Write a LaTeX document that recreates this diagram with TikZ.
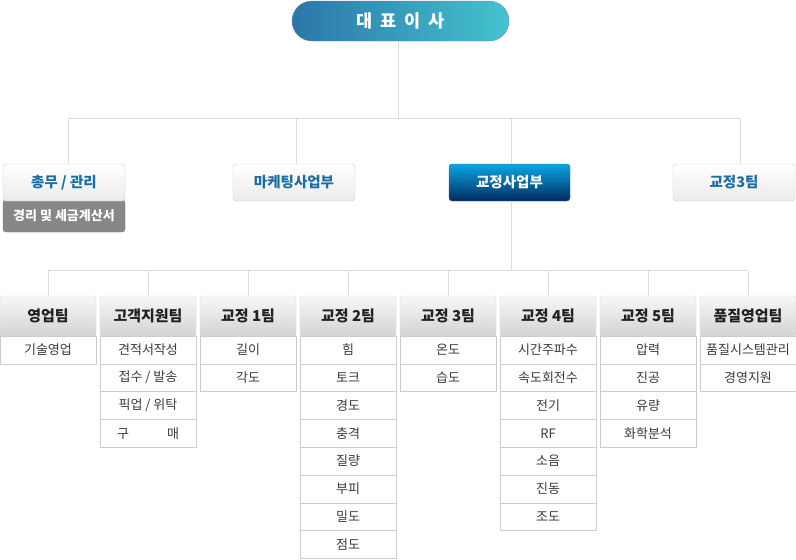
\documentclass[tikz,border=0pt]{standalone}
\usepackage{fontspec}
\setmainfont{Noto Sans CJK KR}
\usetikzlibrary{calc}
\definecolor{linec}{HTML}{DCDCDC}
\definecolor{bordc}{HTML}{CCCCCC}
\definecolor{bluetxt}{HTML}{1A6EA3}
\definecolor{ceoL}{HTML}{2C76A9}
\definecolor{ceoR}{HTML}{45C3CF}
\definecolor{calT}{HTML}{0AA6E2}
\definecolor{calB}{HTML}{012B60}
\definecolor{bandc}{HTML}{878787}
\definecolor{headtop}{HTML}{F7F7F7}
\definecolor{headbot}{HTML}{D3D3D3}
\definecolor{itemtxt}{HTML}{3A3A3A}
\definecolor{headtxt}{HTML}{222222}
\definecolor{wbot}{HTML}{EBEBEB}
\newcommand\gumae{\makebox[62pt][s]{구\hfill 매}}
\tikzset{
  conn/.style={draw=linec, line width=1pt},
  ceobox/.style={rounded corners=20pt, left color=ceoL, right color=ceoR, draw=ceoL!80,
    minimum width=217pt, minimum height=40pt, inner sep=0pt, text=white,
    font=\fontsize{17.5}{20}\selectfont\bfseries},
  whitebox/.style={rounded corners=3pt, top color=white, bottom color=wbot, draw=bordc,
    minimum height=37pt, inner sep=0pt, text=bluetxt, font=\fontsize{14.5}{17}\selectfont\bfseries},
  bluebox/.style={rounded corners=3pt, top color=calT, bottom color=calB, draw=calB!70!white,
    minimum height=37pt, inner sep=0pt, text=white, font=\fontsize{14.5}{17}\selectfont\bfseries},
  bandbox/.style={rounded corners=3pt, fill=bandc, draw=bandc!90!black,
    minimum height=32pt, inner sep=0pt, text=white, font=\fontsize{13}{15}\selectfont\bfseries},
  headbox/.style={rounded corners=2pt, top color=headtop, bottom color=headbot, draw=bordc!80!white,
    minimum width=96pt, minimum height=40pt, inner sep=0pt, text=headtxt,
    font=\fontsize{15}{18}\selectfont\bfseries},
  itembox/.style={fill=white, draw=bordc, minimum width=96pt, minimum height=27.8pt, inner sep=0pt,
    text=itemtxt, font=\fontsize{13}{15}\selectfont},
}
\begin{document}
\begin{tikzpicture}[x=1pt,y=-1pt]
\useasboundingbox[fill=white] (0,0) rectangle (796,560);
% top
\node[ceobox] (ceo) at (400.5,21) {\spaceskip=8pt 대 표 이 사};
% second row
\node[bandbox, minimum width=122pt] (gensub) at (64,216) {경리 및 세금계산서};
\node[whitebox, minimum width=122pt] (gen) at (64,182.5) {총무 / 관리};
\node[whitebox, minimum width=122pt] (mkt) at (294,182.5) {마케팅사업부};
\node[bluebox, minimum width=121pt] (cal) at (509.5,182.5) {교정사업부};
\node[whitebox, minimum width=122pt] (c3) at (734,182.5) {교정3팀};
% bus 1
\coordinate (top1) at (398.5,41);
\coordinate (bus1) at (398.5,118);
\coordinate (b1L) at (68,118);
\coordinate (b1a) at (296,118);
\coordinate (b1b) at (511,118);
\coordinate (b1R) at (740,118);
\draw[conn] (top1) -- (bus1);
\draw[conn] (b1L) -- (b1R);
\draw[conn] (b1L) -- (b1L |- gen.north);
\draw[conn] (b1a) -- (b1a |- mkt.north);
\draw[conn] (b1b) -- (b1b |- cal.north);
\draw[conn] (b1R) -- (b1R |- c3.north);
% bus 2
\coordinate (calbot) at (511,201);
\coordinate (bus2) at (511,270.5);
\coordinate (b2L) at (48,270.5);
\coordinate (b2R) at (748,270.5);
\draw[conn] (calbot) -- (bus2);
\draw[conn] (b2L) -- (b2R);
% third row
\foreach \k/\head/\items in {
  0/영업팀/{기술영업},
  1/고객지원팀/{견적서작성,접수 / 발송,픽업 / 위탁,\gumae},
  2/교정 1팀/{길이,각도},
  3/교정 2팀/{힘,토크,경도,충격,질량,부피,밀도,점도},
  4/교정 3팀/{온도,습도},
  5/교정 4팀/{시간주파수,속도회전수,전기,RF,소음,진동,조도},
  6/교정 5팀/{압력,진공,유량,화학분석},
  7/품질영업팀/{품질시스템관리,경영지원}}{
  \node[headbox] (h\k) at (100*\k+48,316) {\head};
  \coordinate (v\k) at (100*\k+48,270.5);
  \draw[conn] (v\k) -- (h\k.north);
  \foreach \t [count=\i from 0] in \items {
    \node[itembox] (i\k-\i) at (100*\k+48,{336+27.8*\i+13.9}) {\t};
  }
}
\end{tikzpicture}
\end{document}
